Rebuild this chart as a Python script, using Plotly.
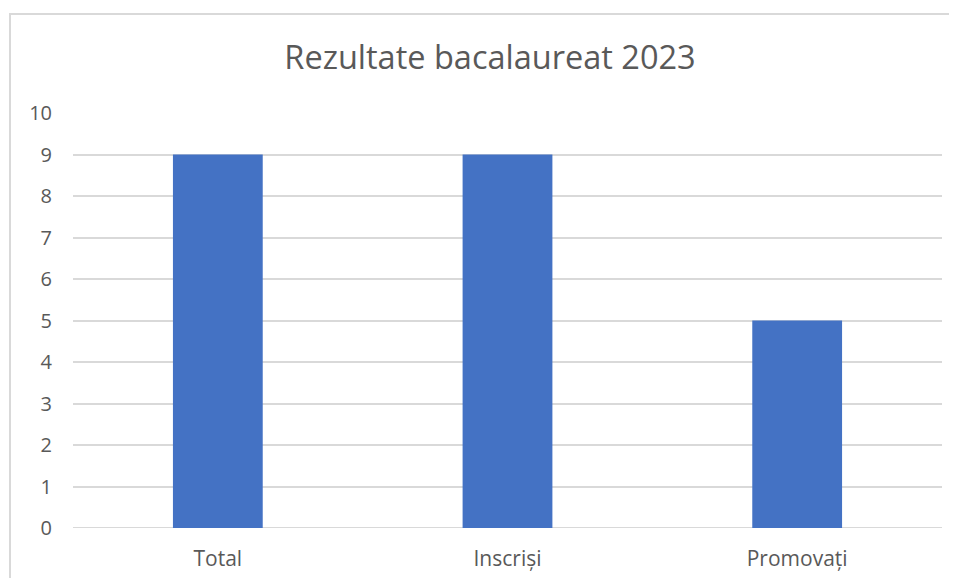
import plotly.graph_objects as go

categories = ["Total", "Inscriși", "Promovați"]
values = [9, 9, 5]
y_ticks = list(range(0, 11))

fig = go.Figure()
fig.add_trace(go.Bar(x=categories, y=values, marker=dict(color="#4472C4", line=dict(width=0)), width=0.31))

# page has an 8px body margin on every side; lay the figure out in page coords minus 8
OFF = 8
W, H = 957 - 2 * OFF, 586 - 2 * OFF
plot_x0, plot_x1, plot_y0, plot_y1 = 73 - OFF, 942 - OFF, 113 - OFF, 528 - OFF
L, R, T, B = plot_x0, W - plot_x1, plot_y0, H - plot_y1
pw, ph = W - L - R, H - T - B

fig.update_layout(
    width=W, height=H,
    margin=dict(l=L, r=R, t=T, b=B),
    paper_bgcolor="white", plot_bgcolor="white",
    font=dict(family="Open Sans", color="#595959"),
    title=dict(text="Rezultate bacalaureat 2023", x=(490 - OFF) / W, xanchor="center",
               y=1 - (58 - OFF) / H, yanchor="middle", yref="container",
               font=dict(size=32.5, color="#595959", family="Open Sans")),
    showlegend=False,
)
fig.update_yaxes(range=[0, 10], tickvals=y_ticks, showgrid=True, gridcolor="#d9d9d9", gridwidth=2,
                 zeroline=False, showline=False, ticks="", ticklabelstandoff=20,
                 tickfont=dict(size=20, color="#595959"), fixedrange=True)
fig.update_xaxes(showgrid=False, showline=False, ticks="", tickfont=dict(size=21, color="#595959"),
                 ticklabelstandoff=16, fixedrange=True)
fig.add_shape(type="line", xref="paper", yref="y", x0=0, x1=1, y0=0, y1=0,
              line=dict(color="#d9d9d9", width=2), layer="below")
fig.add_shape(type="rect", xref="paper", yref="paper",
              x0=(10 - 73) / pw, x1=1 + 40 / pw,
              y0=-(B + 40) / ph, y1=1 + (113 - 14) / ph,
              line=dict(color="#d9d9d9", width=2), fillcolor="rgba(0,0,0,0)")

fig.write_html("out.html")
